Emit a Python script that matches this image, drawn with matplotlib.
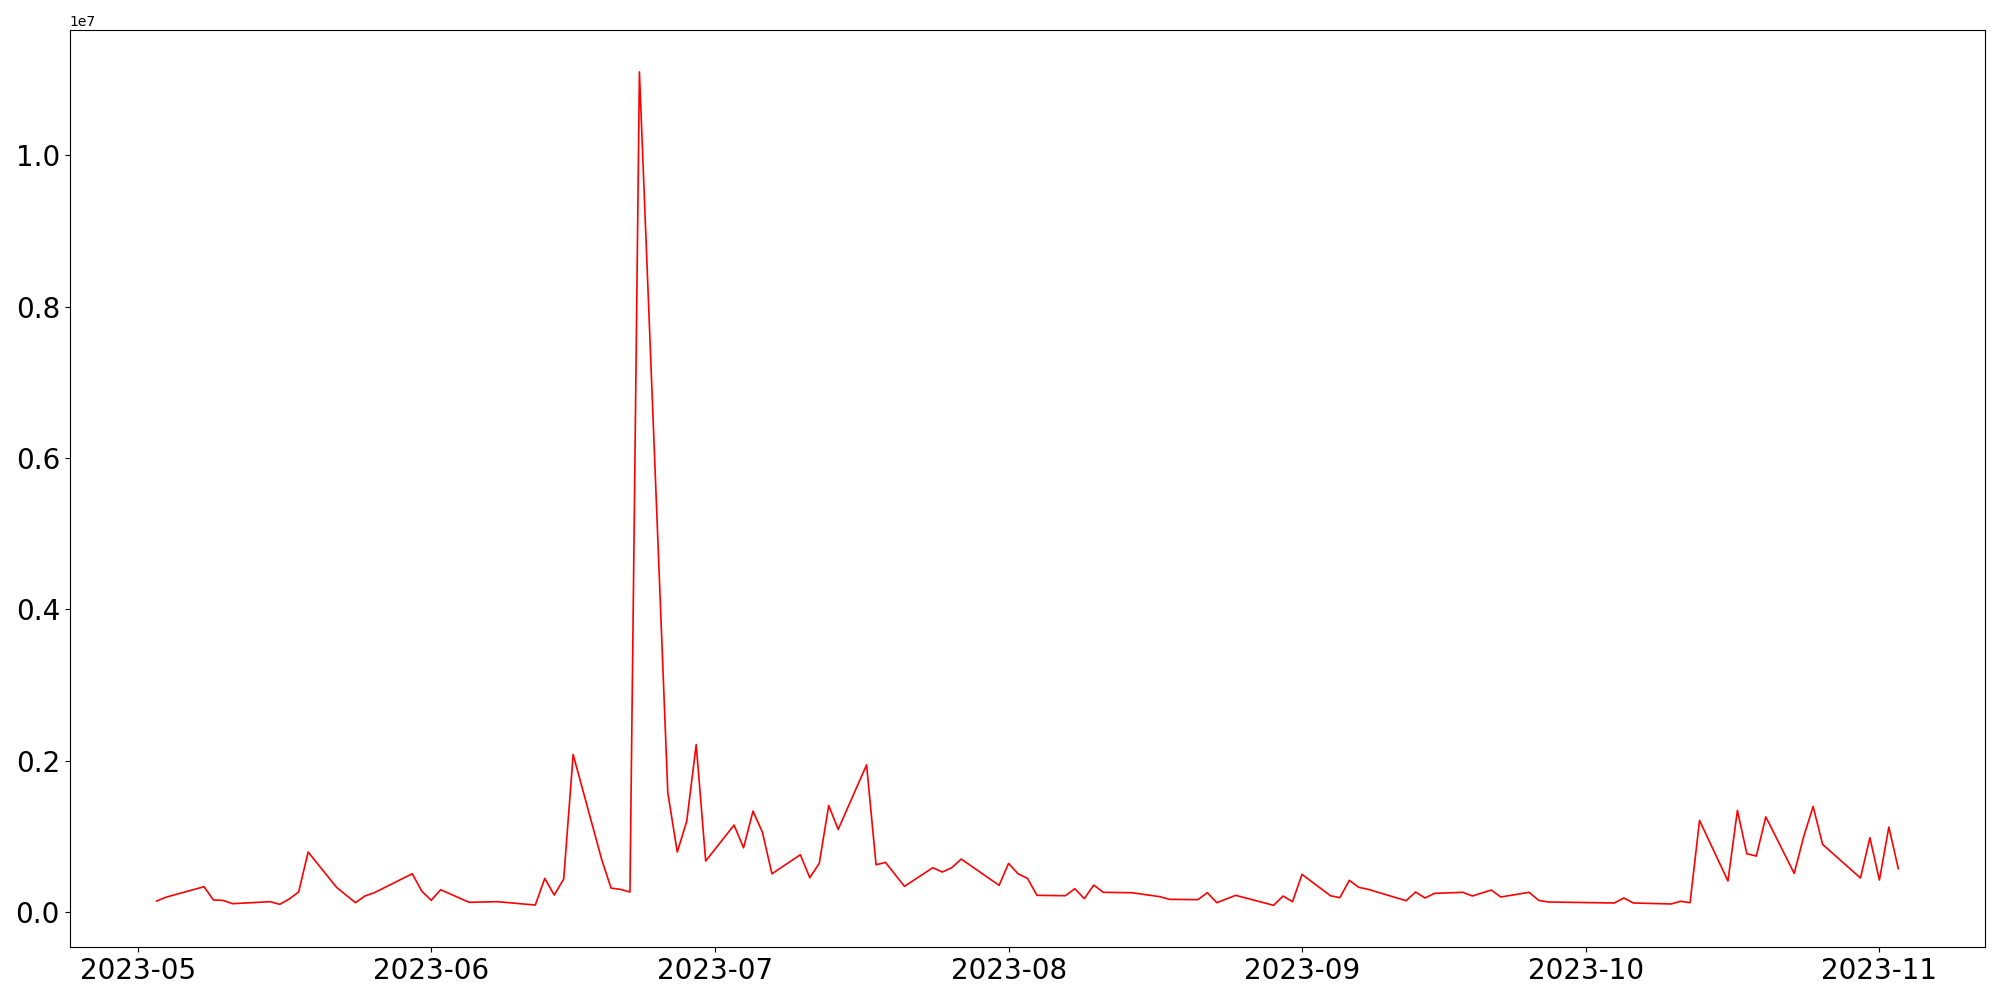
import matplotlib
matplotlib.use('Agg')
import matplotlib.pyplot as plt
import numpy as np
import pandas as pd

# Daily values (values in millions)
dates = [
    "2023-05-03", "2023-05-04", "2023-05-08", "2023-05-09", "2023-05-10", "2023-05-11",
    "2023-05-15", "2023-05-16", "2023-05-17", "2023-05-18", "2023-05-19", "2023-05-22",
    "2023-05-24", "2023-05-25", "2023-05-26", "2023-05-30", "2023-05-31", "2023-06-01",
    "2023-06-02", "2023-06-05", "2023-06-08", "2023-06-12", "2023-06-13", "2023-06-14",
    "2023-06-15", "2023-06-16", "2023-06-19", "2023-06-20", "2023-06-21", "2023-06-22",
    "2023-06-23", "2023-06-26", "2023-06-27", "2023-06-28", "2023-06-29", "2023-06-30",
    "2023-07-03", "2023-07-04", "2023-07-05", "2023-07-06", "2023-07-07", "2023-07-10",
    "2023-07-11", "2023-07-12", "2023-07-13", "2023-07-14", "2023-07-17", "2023-07-18",
    "2023-07-19", "2023-07-21", "2023-07-24", "2023-07-25", "2023-07-26", "2023-07-27",
    "2023-07-31", "2023-08-01", "2023-08-02", "2023-08-03", "2023-08-04", "2023-08-07",
    "2023-08-08", "2023-08-09", "2023-08-10", "2023-08-11", "2023-08-14", "2023-08-17",
    "2023-08-18", "2023-08-21", "2023-08-22", "2023-08-23", "2023-08-25", "2023-08-29",
    "2023-08-30", "2023-08-31", "2023-09-01", "2023-09-04", "2023-09-05", "2023-09-06",
    "2023-09-07", "2023-09-08", "2023-09-12", "2023-09-13", "2023-09-14", "2023-09-15",
    "2023-09-18", "2023-09-19", "2023-09-21", "2023-09-22", "2023-09-25", "2023-09-26",
    "2023-09-27", "2023-10-04", "2023-10-05", "2023-10-06", "2023-10-10", "2023-10-11",
    "2023-10-12", "2023-10-13", "2023-10-16", "2023-10-17", "2023-10-18", "2023-10-19",
    "2023-10-20", "2023-10-23", "2023-10-24", "2023-10-25", "2023-10-26", "2023-10-30",
    "2023-10-31", "2023-11-01", "2023-11-02", "2023-11-03",
]
values_m = [
    0.149, 0.200, 0.338, 0.162, 0.158, 0.114,
    0.140, 0.105, 0.175, 0.268, 0.796, 0.330,
    0.127, 0.215, 0.259, 0.509, 0.281, 0.158,
    0.298, 0.132, 0.140, 0.096, 0.448, 0.228,
    0.439, 2.084, 0.703, 0.320, 0.303, 0.268,
    11.10, 1.578, 0.796, 1.204, 2.216, 0.677,
    1.152, 0.852, 1.336, 1.055, 0.509, 0.760,
    0.457, 0.646, 1.411, 1.095, 1.948, 0.628,
    0.659, 0.343, 0.589, 0.532, 0.589, 0.703,
    0.356, 0.646, 0.509, 0.448, 0.224, 0.219,
    0.312, 0.180, 0.360, 0.264, 0.259, 0.206,
    0.171, 0.167, 0.259, 0.127, 0.224, 0.092,
    0.215, 0.140, 0.501, 0.219, 0.193, 0.422,
    0.330, 0.303, 0.153, 0.268, 0.189, 0.250,
    0.264, 0.215, 0.294, 0.202, 0.264, 0.158,
    0.136, 0.123, 0.189, 0.123, 0.110, 0.145,
    0.127, 1.214, 0.413, 1.346, 0.773, 0.743,
    1.261, 0.514, 0.998, 1.398, 0.897, 0.453,
    0.985, 0.426, 1.125, 0.576,
]

x = pd.to_datetime(dates)
y = np.array(values_m) * 1e6

fig, ax = plt.subplots(figsize=(20, 10), dpi=100)
ax.plot(x, y, color='red', linewidth=1.2)

plt.xticks(fontsize=20)
plt.yticks(fontsize=20)

fig.subplots_adjust(left=0.0348, right=0.9927, bottom=0.053, top=0.9697)
fig.savefig('out.png', dpi=100)
plt.close(fig)
